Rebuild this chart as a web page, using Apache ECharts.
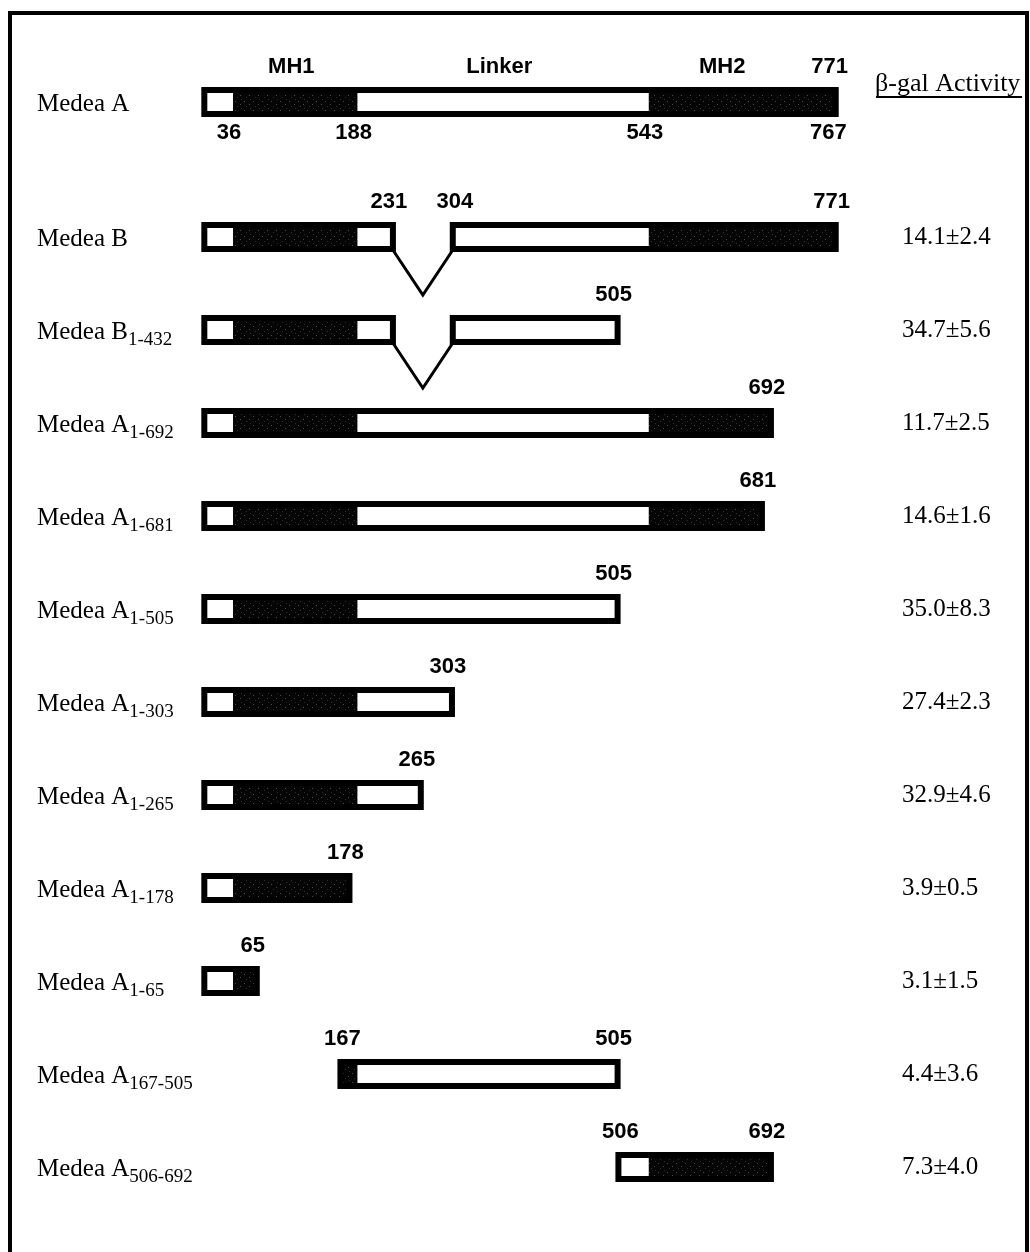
<!DOCTYPE html>
<html>
<head>
<meta charset="utf-8">
<script src="https://cdn.jsdelivr.net/npm/echarts@6/dist/echarts.min.js"></script>
<style>
  html, body { margin: 0; padding: 0; background: #fff; }
  #chart { width: 1030px; height: 1252px; }
</style>
</head>
<body>
<div id="chart"></div>
<script>
// Medea A domain map, in residue numbers
const segStart = [1, 36, 188, 543];
const segEnd = [36, 188, 543, 771];
const segShaded = [false, true, false, true];
const domainNames = ['MH1', 'Linker', 'MH2'];   // segments 1, 2, 3
const fullName = 'Medea A';
const fullLength = 771;
const fullAbove = [771];
const fullBelow = [36, 188, 543, 767];

// Deletion / truncation constructs (Medea A numbering)
const constructNames = ['Medea B', 'Medea B', 'Medea A', 'Medea A', 'Medea A', 'Medea A',
                        'Medea A', 'Medea A', 'Medea A', 'Medea A', 'Medea A'];
const constructSubs = ['', '1-432', '1-692', '1-681', '1-505', '1-303',
                       '1-265', '1-178', '1-65', '167-505', '506-692'];
const constructStart = [1, 1, 1, 1, 1, 1, 1, 1, 1, 167, 506];
const constructEnd = [771, 505, 692, 681, 505, 303, 265, 178, 65, 505, 692];
const gapStart = [231, 231, null, null, null, null, null, null, null, null, null];
const gapEnd = [304, 304, null, null, null, null, null, null, null, null, null];
const constructLabels = [[231, 304, 771], [505], [692], [681], [505], [303],
                         [265], [178], [65], [167, 505], [506, 692]];

// beta-galactosidase activity (mean ± s.d.)
const activityMean = [14.1, 34.7, 11.7, 14.6, 35.0, 27.4, 32.9, 3.9, 3.1, 4.4, 7.3];
const activitySD = [2.4, 5.6, 2.5, 1.6, 8.3, 2.3, 4.6, 0.5, 1.5, 3.6, 4.0];

const activityText = activityMean.map((m, i) => m.toFixed(1) + '\u00b1' + activitySD[i].toFixed(1));
const rowKeys = constructNames.map((n, i) => constructSubs[i] ? n + '|' + constructSubs[i] : n);

const SANS = '"Liberation Sans Narrow", "Liberation Sans", Arial, sans-serif';
const SERIF = '"Liberation Serif", "Times New Roman", serif';
const NUM_FONT = 'bold 22px ' + SANS;
const BAR_H = 24;       // path height; the 6px stroke adds 3px on each side
const BORDER = 6;
const LABEL_DY = 35;

// near-black speckled fill used for the MH1 / MH2 domains
function stippleCanvas() {
  const c = document.createElement('canvas');
  c.width = 9; c.height = 9;
  const g = c.getContext('2d');
  g.fillStyle = '#050505';
  g.fillRect(0, 0, 9, 9);
  g.fillStyle = '#4a4a4a';
  g.fillRect(1, 2, 1, 1);
  g.fillRect(6, 5, 1, 1);
  g.fillStyle = '#2e2e2e';
  g.fillRect(3, 7, 1, 1);
  g.fillRect(7, 0, 1, 1);
  return c;
}
const stipple = { type: 'pattern', image: stippleCanvas(), repeat: 'repeat' };

function textEl(str, x, y, font) {
  return {
    type: 'text',
    style: {
      text: String(str), x: x, y: y, fill: '#000', font: font,
      align: 'center', verticalAlign: 'middle',
      textAlign: 'center', textVerticalAlign: 'middle'
    },
    z2: 10
  };
}

// Draws one construct bar: shaded/white domain pieces and outline.
function barElements(X, yc, pieces) {
  const els = [];
  const top = yc - BAR_H / 2;
  pieces.forEach(([ps, pe]) => {
    for (let k = 0; k < segStart.length; k++) {
      const lo = Math.max(ps, segStart[k]);
      const hi = Math.min(pe, segEnd[k]);
      if (hi > lo) {
        els.push({
          type: 'rect',
          shape: { x: X(lo), y: top, width: X(hi) - X(lo), height: BAR_H },
          style: { fill: segShaded[k] ? stipple : '#fff' }
        });
      }
    }
  });
  pieces.forEach(([ps, pe]) => {
    els.push({
      type: 'rect',
      shape: { x: X(ps), y: top, width: X(pe) - X(ps), height: BAR_H },
      style: { fill: 'none', stroke: '#000', lineWidth: BORDER, lineJoin: 'miter' },
      z2: 5
    });
  });
  return els;
}

function renderFull(params, api) {
  const X = r => api.coord([r, 0])[0];
  const yc = api.coord([0, 0])[1];
  const els = barElements(X, yc, [[1, fullLength]]);
  fullAbove.forEach(r => els.push(textEl(r, X(r) - 6, yc - LABEL_DY, NUM_FONT)));
  fullBelow.forEach(r => els.push(textEl(r, X(r) - 4, yc + 31, NUM_FONT)));
  domainNames.forEach((name, j) => {
    const k = j + 1;
    const mid = (segStart[k] + segEnd[k]) / 2;
    const dx = j === 2 ? -20 : -4;
    els.push(textEl(name, X(mid) + dx, yc - LABEL_DY, NUM_FONT));
  });
  return { type: 'group', children: els };
}

function renderConstruct(params, api) {
  const i = params.dataIndex;
  const X = r => api.coord([r, i])[0];
  const yc = api.coord([0, i])[1];
  const s = constructStart[i], e = constructEnd[i];
  const pieces = gapStart[i] != null ? [[s, gapStart[i]], [gapEnd[i], e]] : [[s, e]];
  const els = barElements(X, yc, pieces);
  if (gapStart[i] != null) {
    const yb = yc + BAR_H / 2 + 1;
    els.push({
      type: 'polyline',
      shape: { points: [[X(gapStart[i]), yb], [X((gapStart[i] + gapEnd[i]) / 2), yb + 45], [X(gapEnd[i]), yb]] },
      style: { fill: 'none', stroke: '#000', lineWidth: 3 }
    });
  }
  constructLabels[i].forEach(r => {
    const isStart = r === s || r === gapEnd[i];
    els.push(textEl(r, X(r) + (isStart ? 2 : -4), yc - LABEL_DY, NUM_FONT));
  });
  return { type: 'group', children: els };
}

const nameRich = {
  m: { fontFamily: SERIF, fontSize: 25, lineHeight: 25, color: '#000', padding: [5, 0, 0, 0] },
  s: { fontFamily: SERIF, fontSize: 19, lineHeight: 19, color: '#000', padding: [21, 0, 0, 0] }
};
function nameFormatter(v) {
  const parts = v.split('|');
  return '{m|' + parts[0] + '}' + (parts[1] ? '{s|' + parts[1] + '}' : '');
}

const hiddenAxisParts = { axisLine: { show: false }, axisTick: { show: false }, splitLine: { show: false } };

const chart = echarts.init(document.getElementById('chart'), null, { renderer: 'canvas' });
chart.setOption({
  animation: false,
  backgroundColor: '#fff',
  grid: [
    { left: 203.5, width: 656, top: 55.5, height: 93 },
    { left: 203.5, width: 656, top: 190.5, height: 1023 }
  ],
  xAxis: [
    { gridIndex: 0, type: 'value', min: 0, max: 800, show: false },
    { gridIndex: 1, type: 'value', min: 0, max: 800, show: false }
  ],
  yAxis: [
    Object.assign({
      gridIndex: 0, type: 'category', data: [fullName],
      axisLabel: { align: 'left', margin: 166.5, formatter: nameFormatter, rich: nameRich }
    }, hiddenAxisParts),
    Object.assign({
      gridIndex: 1, type: 'category', inverse: true, data: rowKeys,
      axisLabel: { align: 'left', margin: 166.5, formatter: nameFormatter, rich: nameRich }
    }, hiddenAxisParts),
    Object.assign({
      gridIndex: 1, type: 'category', inverse: true, position: 'right', data: activityText,
      axisLabel: {
        align: 'left', margin: 42.5, color: '#000', fontSize: 25, fontFamily: SERIF,
        padding: [6, 0, 0, 0]
      }
    }, hiddenAxisParts)
  ],
  series: [
    {
      type: 'custom', xAxisIndex: 0, yAxisIndex: 0,
      data: [[1, fullLength, 0]], encode: { x: [0, 1], y: 2 },
      renderItem: renderFull
    },
    {
      type: 'custom', xAxisIndex: 1, yAxisIndex: 1,
      data: constructStart.map((s, i) => [s, constructEnd[i], i]), encode: { x: [0, 1], y: 2 },
      renderItem: renderConstruct
    }
  ],
  graphic: [
    {
      type: 'rect', shape: { x: 10, y: 13, width: 1017, height: 1300 },
      style: { fill: 'none', stroke: '#000', lineWidth: 4 }, silent: true
    },
    {
      type: 'text', left: 875, top: 71,
      style: { text: '\u03b2-gal Activity', fill: '#000', font: '26px ' + SERIF }
    },
    {
      type: 'line', shape: { x1: 876, y1: 97, x2: 1022, y2: 97 },
      style: { stroke: '#000', lineWidth: 2 }
    }
  ]
});
</script>
</body>
</html>
